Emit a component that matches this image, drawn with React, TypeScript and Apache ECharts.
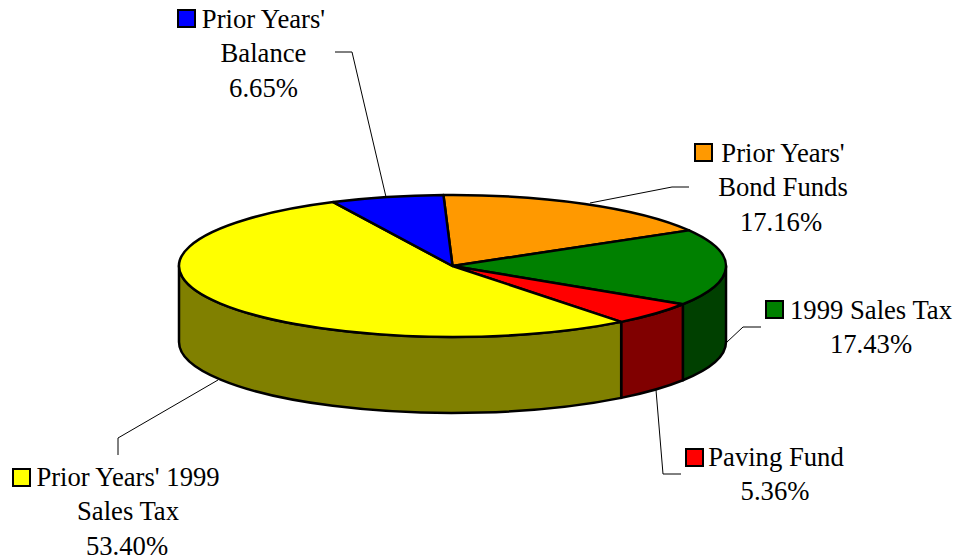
import React, { useEffect, useRef } from "react";
import * as echarts from "echarts";

const sliceNames = ["Prior Years' Bond Funds", "1999 Sales Tax", "Paving Fund", "Prior Years' 1999 Sales Tax", "Prior Years' Balance"];
const shares = [17.16, 17.43, 5.36, 53.4, 6.65];
const topColors = ["#FF9900", "#008000", "#FF0000", "#FFFF00", "#0000FF"];
const sideColors = ["#804C00", "#004000", "#800000", "#808000", "#000080"];
const labelLines = [
  ["Prior Years'", "Bond Funds", "17.16%"],
  ["1999 Sales Tax", "17.43%"],
  ["Paving Fund", "5.36%"],
  ["Prior Years' 1999", "Sales Tax", "53.40%"],
  ["Prior Years'", "Balance", "6.65%"],
];

const CX = 452.5, CY = 266, RX = 273.5, RY = 71, DEPTH = 76, START = -1.9;
const FONT = "'Liberation Serif', serif";
const FS = 26.67;
const BLACK = "#000";

const pt = (deg: number, dy = 0) => {
  const t = (deg * Math.PI) / 180;
  return [CX + RX * Math.sin(t), CY - RY * Math.cos(t) + dy];
};

const leaders = [
  [[590, 203], [672, 187], [689, 187]],
  [[727, 342], [743, 327], [761, 327]],
  [[656, 390], [663, 474], [681, 474]],
  [[218, 380], [118, 438], [118, 455]],
  [[386, 197], [352, 52], [335, 52]],
];
const labelPos = [
  { cx: 783, y: 153, keyX: 694, keyY: 143, pctShift: -2 },
  { cx: 871, y: 310, keyX: 765, keyY: 300, pctShift: 0 },
  { cx: 776, y: 457, keyX: 685, keyY: 448, pctShift: -1 },
  { cx: 128, y: 477, keyX: 12, keyY: 468, pctShift: -1 },
  { cx: 263.5, y: 19, keyX: 177, keyY: 9, pctShift: 0 },
];

export default function App() {
  const ref = useRef<HTMLDivElement>(null);
  useEffect(() => {
    const chart = echarts.init(ref.current!, undefined, { renderer: "svg" });
    const starts: number[] = [];
    let acc = START;
    shares.forEach((s) => {
      starts.push(acc);
      acc += (s / 100) * 360;
    });
    const total = 100;
    const sidePath = (a: number, b: number) => {
      const lo = Math.max(a, 90), hi = Math.min(b, 270);
      if (hi <= lo) return null;
      const p1 = pt(lo), p2 = pt(hi), p3 = pt(hi, DEPTH), p4 = pt(lo, DEPTH);
      return `M${p1[0]} ${p1[1]}A${RX} ${RY} 0 0 1 ${p2[0]} ${p2[1]}L${p3[0]} ${p3[1]}A${RX} ${RY} 0 0 0 ${p4[0]} ${p4[1]}Z`;
    };
    const topPath = (a: number, b: number) => {
      const p1 = pt(a), p2 = pt(b);
      const large = b - a > 180 ? 1 : 0;
      return `M${CX} ${CY}L${p1[0]} ${p1[1]}A${RX} ${RY} 0 ${large} 1 ${p2[0]} ${p2[1]}Z`;
    };
    const lineStyle = { stroke: BLACK, lineWidth: 2.5, lineJoin: "round" };
    const sideSeries = {
      type: "custom",
      coordinateSystem: "none",
      silent: true,
      z: 1,
      data: shares.map((s, i) => [i, s]),
      renderItem: (_p: any, api: any) => {
        const i = api.value(0);
        const a = starts[i];
        const d = sidePath(a, a + (api.value(1) / total) * 360);
        if (!d) return { type: "group", children: [] };
        return { type: "path", shape: { pathData: d }, style: { fill: sideColors[i], ...lineStyle } };
      },
    };
    const topSeries = {
      type: "custom",
      coordinateSystem: "none",
      silent: true,
      z: 2,
      data: shares.map((s, i) => [i, s]),
      renderItem: (_p: any, api: any) => {
        const i = api.value(0);
        const a = starts[i];
        const d = topPath(a, a + (api.value(1) / total) * 360);
        return { type: "path", shape: { pathData: d }, style: { fill: topColors[i], ...lineStyle } };
      },
    };
    const graphic: any[] = [];
    leaders.forEach((pts) => {
      graphic.push({ type: "polyline", z: 0, shape: { points: pts }, style: { stroke: BLACK, lineWidth: 1, fill: "none" } });
    });
    labelLines.forEach((lines, i) => {
      const p = labelPos[i];
      graphic.push({ type: "rect", shape: { x: p.keyX + 1, y: p.keyY + 1, width: 17, height: 17 }, style: { fill: topColors[i], stroke: BLACK, lineWidth: 2 } });
      lines.forEach((txt, j) => {
        graphic.push({
          type: "text",
          x: p.cx + (j === lines.length - 1 ? p.pctShift : 0),
          y: p.y + j * 34.4,
          style: { text: txt, fill: BLACK, font: `${FS}px ${FONT}`, textAlign: "center", textVerticalAlign: "middle" },
        });
      });
    });
    chart.setOption({
      animation: false,
      backgroundColor: "#fff",
      series: [sideSeries, topSeries],
      graphic,
    });
    return () => chart.dispose();
  }, []);
  return <div ref={ref} aria-label={sliceNames.join(", ")} style={{ position: "fixed", left: 0, top: 0, width: 958, height: 560 }} />;
}
